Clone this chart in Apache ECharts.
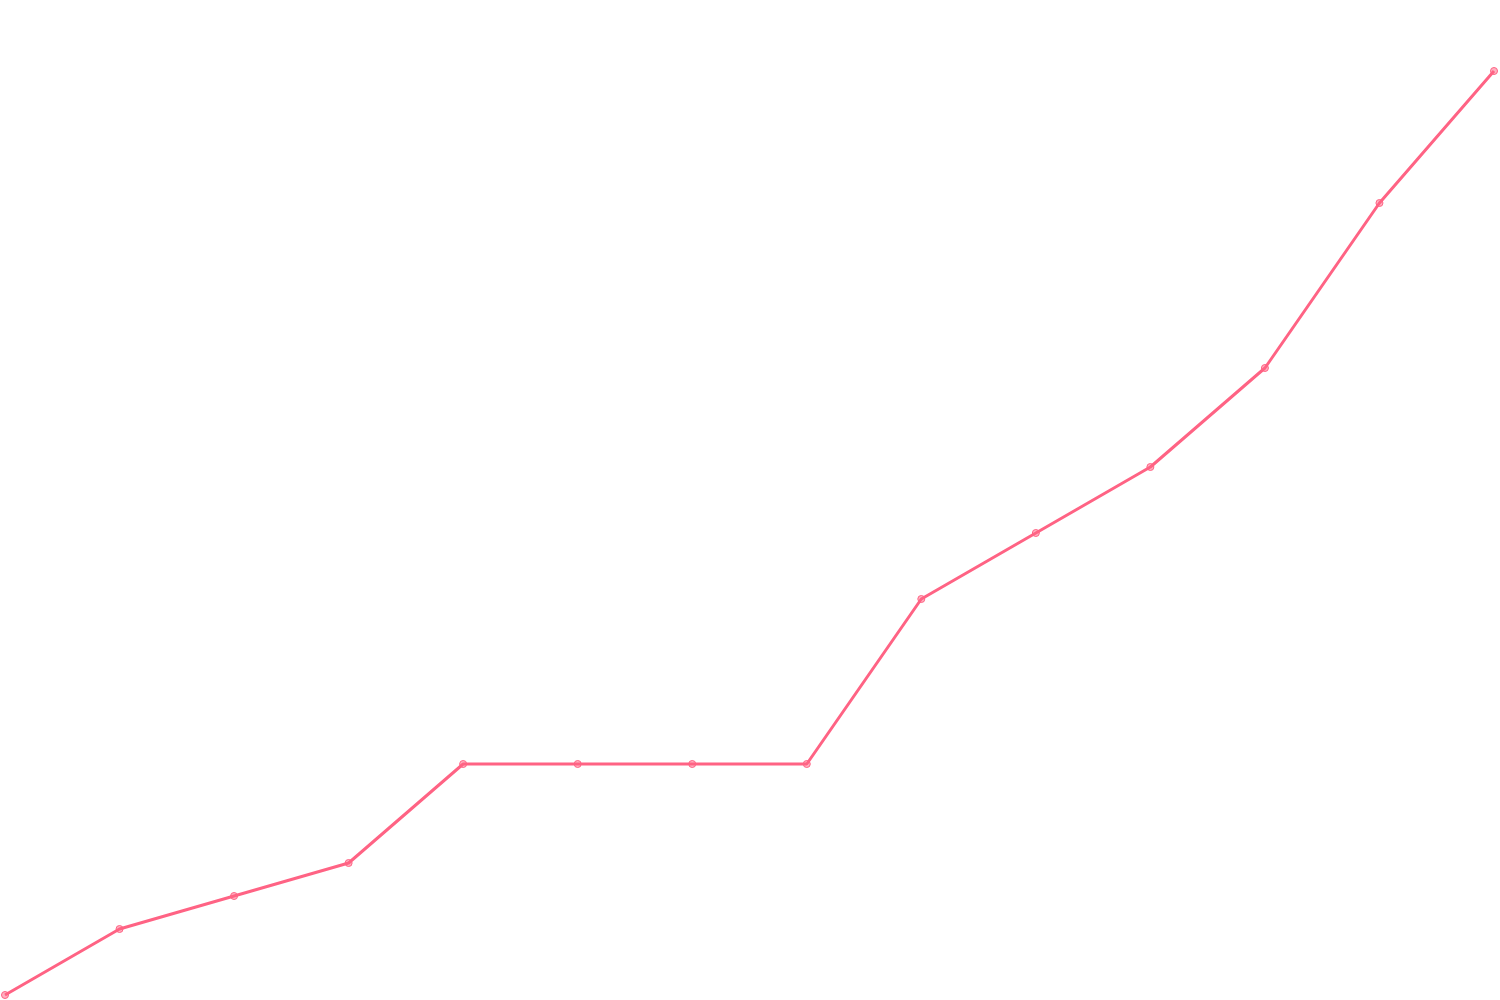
<!DOCTYPE html>
<html>
<head>
<meta charset="utf-8">
<script src="https://cdn.jsdelivr.net/npm/echarts@6/dist/echarts.min.js"></script>
<style>
html, body { margin: 0; padding: 0; background: #fff; }
#chart { width: 1500px; height: 1000px; }
</style>
</head>
<body>
<div id="chart"></div>
<script>
var categories = ['1', '2', '3', '4', '5', '6', '7', '8', '9', '10', '11', '12', '13', '14'];
var values = [0, 2, 3, 4, 7, 7, 7, 7, 12, 14, 16, 19, 24, 28];

var chart = echarts.init(document.getElementById('chart'));
chart.setOption({
    animation: false,
    grid: { left: 5, right: 6, top: 5, bottom: 5 },
    xAxis: {
        type: 'category',
        data: categories,
        boundaryGap: false,
        show: false
    },
    yAxis: {
        type: 'value',
        min: 0,
        max: 30,
        show: false
    },
    series: [{
        type: 'line',
        data: values,
        symbol: 'circle',
        symbolSize: 7,
        lineStyle: { color: '#ff6384', width: 3 },
        itemStyle: {
            color: 'rgba(255, 99, 132, 0.5)',
            borderColor: '#ff6384',
            borderWidth: 1
        }
    }]
});
</script>
</body>
</html>
